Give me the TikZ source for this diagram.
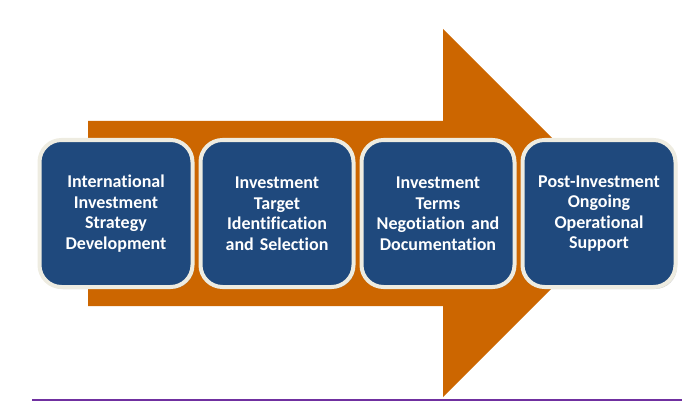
\documentclass[tikz,border=0pt]{standalone}
\usepackage{fontspec}
\setmainfont{Carlito}[Ligatures=NoCommon]
\usepackage{tikz}
\usetikzlibrary{positioning,shadows}
\definecolor{cA}{HTML}{CC6600}
\definecolor{cB}{HTML}{1F497D}
\definecolor{cR}{HTML}{EEECE1}
\definecolor{cL}{HTML}{7030A0}
\tikzset{stage/.style={draw=cR,fill=cB,line width=4pt,rounded corners=22pt,
    minimum width=153pt,minimum height=147pt,align=center,text width=146pt,
    text=white,font=\bfseries\fontsize{18}{20.5}\selectfont,
    drop shadow={shadow xshift=1.5pt,shadow yshift=-2pt,opacity=0.35}}}
\begin{document}
\begin{tikzpicture}[x=1pt,y=-1pt]
  \useasboundingbox (0,0) rectangle (693,401);
  % big arrow behind the stages
  \fill[cA] (88,121) -- (443,121) -- (443,29) -- (627,213) -- (443,397) -- (443,306) -- (88,306) -- cycle;
  \node[stage] (s1) at (116,213.5) {International\\Investment\\Strategy\\Development};
  \node[stage,right=4pt of s1] (s2) {Investment\\Target\\Identification\\and Selection};
  \node[stage,right=4pt of s2] (s3) {Investment\\Terms\\Negotiation and\\Documentation};
  \node[stage,right=4pt of s3] (s4) {Post-Investment\\Ongoing\\Operational\\Support};
  \draw[cL,line width=1.5pt] (32,400) -- (682,400);
\end{tikzpicture}
\end{document}
